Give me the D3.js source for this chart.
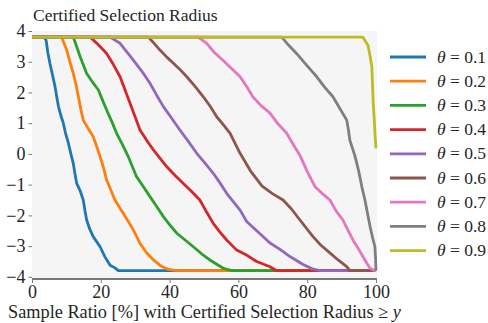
<!DOCTYPE html>
<html>
<head>
<meta charset="utf-8">
<script src="https://cdn.jsdelivr.net/npm/d3@7"></script>
<style>
  body { margin: 0; background: #fff; }
</style>
</head>
<body>
<div id="chart"></div>
<script>
// legend labels / series names
const thetas = ["0.1", "0.2", "0.3", "0.4", "0.5", "0.6", "0.7", "0.8", "0.9"];
const colors = ["#1f77b4", "#ff7f0e", "#2ca02c", "#d62728", "#9467bd", "#8c564b", "#e377c2", "#7f7f7f", "#bcbd22"];
const yTicks = [-4, -3, -2, -1, 0, 1, 2, 3, 4];
const xTicks = [0, 20, 40, 60, 80, 100];

// [sample ratio %, radius]
const s01 = [[0,3.8],[3.5,3.8],[4.1,3.7],[4.6,3.3],[5.2,2.95],[6.0,2.55],[6.7,2.19],[7.2,1.85],[7.7,1.54],[8.4,1.25],[9.1,1.0],[9.8,0.65],[10.6,0.34],[11.3,0.0],[12.0,-0.31],[12.5,-0.65],[13.0,-0.96],[14.0,-1.2],[14.9,-1.5],[15.4,-1.85],[15.9,-2.15],[16.8,-2.45],[17.8,-2.69],[19.8,-3.02],[21.2,-3.35],[22.7,-3.62],[24.0,-3.7],[25.1,-3.8],[100,-3.8]];
const s02 = [[0,3.8],[8.6,3.8],[9.3,3.6],[10.1,3.38],[11.0,3.0],[12.0,2.62],[12.8,2.25],[13.5,1.86],[14.2,1.45],[14.9,1.1],[16.2,0.85],[17.8,0.56],[18.8,0.25],[19.8,-0.09],[20.8,-0.45],[21.7,-0.85],[23.0,-1.2],[24.1,-1.5],[26.5,-1.93],[28.0,-2.2],[29.5,-2.48],[31.4,-2.91],[33.2,-3.2],[35.3,-3.45],[37.5,-3.65],[39.6,-3.76],[42.1,-3.8],[100,-3.8]];
const s03 = [[0,3.8],[12.0,3.8],[12.8,3.55],[14.0,3.16],[15.9,2.62],[17.5,2.35],[19.3,2.08],[20.5,1.75],[21.7,1.43],[23.2,1.05],[24.6,0.67],[26.3,0.3],[28.0,-0.09],[30.4,-0.74],[32.3,-1.05],[34.3,-1.39],[36.2,-1.7],[38.2,-2.04],[40.2,-2.33],[42.1,-2.58],[44.5,-2.8],[46.9,-3.02],[49.3,-3.25],[51.7,-3.45],[55.6,-3.72],[58.0,-3.8],[100,-3.8]];
const s04 = [[0,3.8],[16.9,3.8],[19.3,3.55],[21.7,3.27],[23.7,2.9],[25.6,2.51],[27.0,2.1],[28.5,1.65],[30.0,1.2],[31.4,0.78],[33.3,0.45],[35.3,0.13],[37.3,-0.15],[39.2,-0.42],[41.6,-0.7],[44.0,-0.96],[46.4,-1.22],[48.8,-1.5],[50.8,-1.9],[52.7,-2.26],[54.7,-2.55],[56.6,-2.8],[59.5,-3.13],[62.5,-3.3],[65.3,-3.5],[69.2,-3.67],[71.1,-3.8],[100,-3.8]];
const s05 = [[0,3.8],[22.7,3.8],[25.6,3.6],[27.5,3.33],[29.4,3.06],[32.0,2.68],[34.3,2.3],[36.2,1.92],[38.2,1.54],[40.6,1.16],[43.0,0.78],[45.5,0.4],[47.9,0.02],[50.3,-0.3],[52.7,-0.63],[54.7,-0.95],[56.6,-1.28],[58.5,-1.55],[60.5,-1.83],[62.4,-2.2],[65.8,-2.55],[69.2,-2.9],[72.0,-3.1],[75.0,-3.34],[78.8,-3.6],[81.5,-3.74],[83.7,-3.8],[100,-3.8]];
const s06 = [[0,3.8],[33.8,3.8],[35.5,3.6],[37.2,3.38],[39.2,3.15],[41.1,2.95],[43.0,2.75],[45.0,2.51],[47.4,2.2],[49.8,1.86],[51.8,1.55],[53.7,1.21],[55.6,0.95],[57.6,0.67],[59.0,0.35],[60.5,0.02],[63.5,-0.55],[66.9,-1.05],[70.0,-1.3],[73.0,-1.5],[75.5,-1.8],[77.9,-2.15],[81.7,-2.69],[84.0,-2.97],[86.6,-3.22],[89.0,-3.45],[91.5,-3.67],[92.4,-3.8],[100,-3.8]];
const s07 = [[0,3.8],[48.3,3.8],[50.8,3.6],[53.0,3.3],[55.5,3.05],[58.0,2.78],[60.5,2.51],[62.5,2.18],[64.2,1.86],[66.5,1.58],[69.2,1.33],[71.5,0.98],[74.0,0.68],[76.0,0.3],[78.0,-0.07],[80.0,-0.57],[82.3,-1.07],[84.5,-1.3],[86.6,-1.5],[88.5,-1.87],[90.4,-2.15],[91.8,-2.47],[93.3,-2.8],[94.8,-3.07],[96.2,-3.34],[97.3,-3.55],[98.3,-3.72],[99.7,-3.8],[100,-3.8]];
const s08 = [[0,3.8],[72.6,3.8],[74.5,3.55],[76.9,3.27],[79.5,2.93],[82.8,2.51],[85.0,2.18],[87.5,1.86],[89.5,1.48],[91.5,1.1],[92.0,0.78],[92.4,0.45],[93.9,-0.07],[95.0,-0.57],[95.9,-1.07],[96.8,-1.5],[97.6,-1.97],[98.3,-2.37],[99.0,-2.72],[99.7,-3.02],[99.9,-3.45],[100,-3.8]];
const s09 = [[0,3.8],[96.2,3.8],[97.7,3.53],[98.3,3.18],[98.8,2.83],[99.0,2.23],[99.2,1.65],[99.5,1.13],[99.7,0.68],[100,0.18]];
const series = [s01, s02, s03, s04, s05, s06, s07, s08, s09];

const W = 488, H = 323;
const x0 = 32, x1 = 377, yTop = 31, yBot = 279;
const FONT = "'Liberation Serif', serif";

const svg = d3.select("#chart").append("svg")
  .attr("width", W).attr("height", H);

const x = d3.scaleLinear().domain([0, 100.3]).range([x0, x1]);
const y = d3.scaleLinear().domain([-4.07, 4.0]).range([yBot, yTop]);

// plot background
svg.append("rect")
  .attr("x", x0).attr("y", yTop)
  .attr("width", x1 - x0).attr("height", yBot - yTop)
  .attr("fill", "#f5f5f5");

// y axis: ticks only, no spine
const yAxis = svg.append("g")
  .attr("transform", `translate(${x0},0)`)
  .call(d3.axisLeft(y).tickValues(yTicks).tickSize(3.5).tickPadding(3)
    .tickFormat(d => d < 0 ? "\u2212" + Math.abs(d) : d));
yAxis.select(".domain").remove();
yAxis.selectAll("line").attr("stroke", "#555").attr("stroke-width", 0.8);
yAxis.selectAll("text").style("font-family", FONT).style("font-size", "18px").attr("fill", "#262626");

// x axis with gray spine
const xAxis = svg.append("g")
  .attr("transform", `translate(0,${yBot})`)
  .call(d3.axisBottom(x).tickValues(xTicks).tickSize(4).tickPadding(2));
xAxis.select(".domain").remove();
xAxis.selectAll("line").attr("stroke", "#555").attr("stroke-width", 0.8);
xAxis.selectAll("text").style("font-family", FONT).style("font-size", "18px").attr("fill", "#262626");
svg.append("line")
  .attr("x1", x0).attr("x2", x1)
  .attr("y1", yBot).attr("y2", yBot)
  .attr("stroke", "#777").attr("stroke-width", 2);

// lines
const line = d3.line().x(d => x(d[0])).y(d => y(d[1]));
svg.selectAll(".curve")
  .data(series)
  .enter().append("path")
    .attr("class", "curve")
    .attr("fill", "none")
    .attr("stroke", (d, i) => colors[i])
    .attr("stroke-width", 2.8)
    .attr("stroke-linejoin", "round")
    .attr("d", line);

// title
svg.append("text")
  .attr("x", 33).attr("y", 21)
  .style("font-family", FONT)
  .style("font-size", "17.5px")
  .attr("fill", "#262626")
  .text("Certified Selection Radius");

// x label
const xl = svg.append("text")
  .attr("x", 8).attr("y", 318)
  .style("font-family", FONT)
  .style("font-size", "18.3px")
  .attr("fill", "#262626");
xl.append("tspan").text("Sample Ratio [%] with Certified Selection Radius \u2265 ");
xl.append("tspan").style("font-style", "italic").text("y");

// legend
const leg = svg.append("g");
thetas.forEach((t, i) => {
  const ly = 57 + i * 24.2;
  leg.append("line")
    .attr("x1", 390).attr("x2", 426)
    .attr("y1", ly).attr("y2", ly)
    .attr("stroke", colors[i]).attr("stroke-width", 2.8);
  const tx = leg.append("text")
    .attr("x", 437).attr("y", ly + 5.5)
    .style("font-family", FONT)
    .style("font-size", "17.5px")
    .attr("fill", "#262626");
  tx.append("tspan").style("font-style", "italic").text("\u03b8");
  tx.append("tspan").text(" = " + t);
});
</script>
</body>
</html>
